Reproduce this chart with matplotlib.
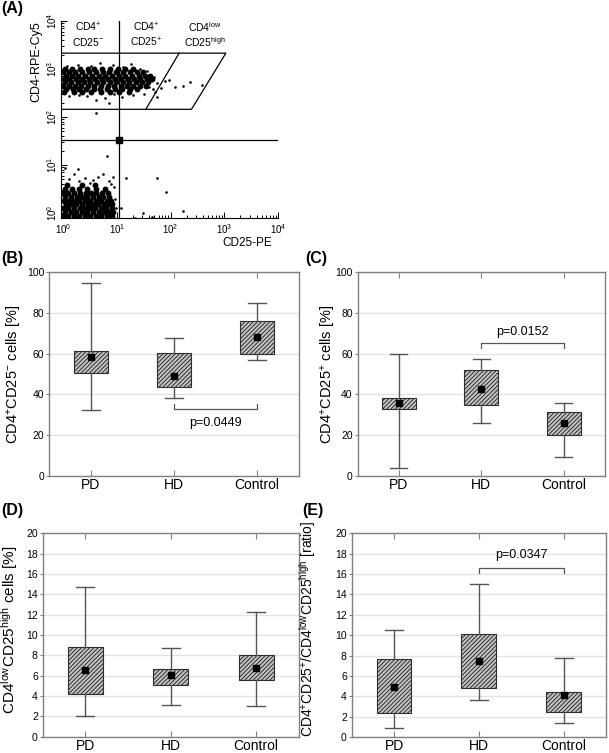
import matplotlib
matplotlib.use('Agg')
import matplotlib.pyplot as plt

plt.rcParams['font.family'] = 'Liberation Sans'
plt.rcParams['mathtext.fontset'] = 'custom'
plt.rcParams['mathtext.rm'] = 'Liberation Sans'
plt.rcParams['mathtext.it'] = 'Liberation Sans:italic'
plt.rcParams['mathtext.bf'] = 'Liberation Sans:bold'
plt.rcParams['mathtext.default'] = 'regular'
plt.rcParams['hatch.linewidth'] = 0.7

W, H = 609, 753

# ---- (A) flow cytometry dot plot, values as log10 of fluorescence ----
# dense CD4+ cloud, one row of events per CD4 level
up_rows_ly = [3.00, 2.93, 2.86, 2.79, 2.72, 2.65, 2.58, 2.52]
up_rows_lx = [
    [0.04, 0.17, 0.31, 0.46, 0.58, 0.73, 0.88, 1.02, 1.16, 1.31],
    [0.00, 0.11, 0.23, 0.36, 0.49, 0.61, 0.74, 0.86, 0.99, 1.11, 1.24, 1.37, 1.49],
    [0.05, 0.16, 0.28, 0.41, 0.53, 0.66, 0.78, 0.91, 1.04, 1.16, 1.28, 1.41, 1.53, 1.62],
    [0.01, 0.12, 0.24, 0.36, 0.48, 0.60, 0.72, 0.84, 0.96, 1.08, 1.20, 1.32, 1.44, 1.56, 1.66],
    [0.04, 0.15, 0.27, 0.39, 0.51, 0.63, 0.75, 0.87, 0.99, 1.11, 1.23, 1.35, 1.47, 1.59],
    [0.00, 0.11, 0.22, 0.34, 0.46, 0.58, 0.71, 0.83, 0.95, 1.07, 1.19, 1.31, 1.43, 1.55],
    [0.06, 0.18, 0.30, 0.43, 0.57, 0.69, 0.81, 0.97, 1.10, 1.24, 1.38],
    [0.02, 0.20, 0.35, 0.52, 0.70, 0.88, 1.05, 1.22],
]
# dense CD4- cloud
low_rows_ly = [-0.06, 0.02, 0.10, 0.18, 0.26, 0.34, 0.42, 0.50, 0.58]
low_rows_lx = [
    [0.00, 0.10, 0.21, 0.30, 0.41, 0.50, 0.61, 0.70, 0.81, 0.91],
    [0.04, 0.14, 0.25, 0.35, 0.45, 0.55, 0.66, 0.76, 0.86, 0.93],
    [0.00, 0.09, 0.20, 0.31, 0.40, 0.51, 0.60, 0.71, 0.80, 0.91],
    [0.05, 0.15, 0.24, 0.36, 0.46, 0.55, 0.65, 0.76, 0.85, 0.92],
    [0.01, 0.11, 0.21, 0.30, 0.41, 0.51, 0.61, 0.70, 0.81, 0.90],
    [0.04, 0.15, 0.26, 0.35, 0.45, 0.56, 0.66, 0.75, 0.86],
    [0.00, 0.10, 0.20, 0.31, 0.42, 0.52, 0.61, 0.72, 0.83],
    [0.03, 0.16, 0.30, 0.45, 0.62, 0.78],
    [0.08, 0.35, 0.60],
]
# scattered single events
sparse_lx = [0.08, 0.27, 0.52, 0.69, 0.93, 1.12, 1.27, 1.44, 1.57, 1.70, 1.74, 1.67, 1.71, 1.74,
             1.90, 2.08, 2.23, 2.36, 2.58, 1.83, 1.98, 1.50, 1.30, 1.10, 0.95, 0.78, 0.62, 0.61,
             0.45, 0.30, 0.12, 0.85, 1.60, 1.62,
             0.04, 0.28, 0.20, 0.74, 0.93, 0.81, 0.12, 0.40, 0.55, 0.65, 0.85, 0.95, 0.97, 0.98,
             0.50, 0.30, 0.90,
             1.18, 1.74, 1.91, 2.23, 1.49, 1.65, 1.07, 1.34]
sparse_ly = [3.07, 3.09, 3.06, 3.13, 3.08, 3.05, 3.10, 3.00, 2.95, 2.84, 2.70, 2.58, 2.53, 2.42,
             2.74, 2.63, 2.65, 2.73, 2.67, 2.60, 2.78, 2.47, 2.45, 2.42, 2.47, 2.40, 2.35, 2.09,
             2.44, 2.46, 2.43, 2.30, 2.62, 2.78,
             0.94, 0.92, 0.81, 0.81, 0.76, 1.19, 0.70, 0.72, 0.68, 0.75, 0.66, 0.55, 0.30, 0.10,
             0.62, 0.66, 0.60,
             0.73, 0.73, 0.44, 0.04, 0.01, -0.08, 0.10, -0.10]

# ---- (B)-(E) box plots: min, 25%, median, 75%, max ----
groups = ['PD', 'HD', 'Control']
b_min = [32.2, 38.4, 56.7]
b_q1 = [50.3, 43.5, 59.8]
b_med = [58.2, 49.2, 68.1]
b_q3 = [61.4, 60.1, 75.8]
b_max = [94.5, 67.8, 84.6]

c_min = [4.1, 25.8, 9.2]
c_q1 = [32.8, 35.0, 20.1]
c_med = [35.9, 42.6, 26.0]
c_q3 = [38.1, 52.0, 31.5]
c_max = [59.6, 57.4, 35.6]

d_min = [2.03, 3.14, 3.0]
d_q1 = [4.2, 5.1, 5.6]
d_med = [6.6, 6.08, 6.78]
d_q3 = [8.8, 6.7, 8.07]
d_max = [14.76, 8.7, 12.23]

e_min = [0.85, 3.63, 1.35]
e_q1 = [2.4, 4.8, 2.5]
e_med = [4.9, 7.45, 4.15]
e_q3 = [7.65, 10.1, 4.4]
e_max = [10.46, 15.0, 7.75]


fig = plt.figure(figsize=(W / 100, H / 100), dpi=100)


def px_axes(l, t, r, b):
    return fig.add_axes([l / W, 1 - b / H, (r - l) / W, (b - t) / H])


def ftext(x, y, s, **kw):
    fig.text(x / W, 1 - y / H, s, **kw)


# (A)
axA = px_axes(60.9, 21, 278, 217.8)
axA.set_xscale('log')
axA.set_yscale('log')
axA.set_xlim(10 ** -0.04, 1e4)
axA.set_ylim(10 ** -0.1, 1e4)
for side in ['top', 'right']:
    axA.spines[side].set_visible(False)
for side in ['left', 'bottom']:
    axA.spines[side].set_linewidth(0.8)

core_x, core_y = [], []
for ly, row in zip(up_rows_ly + low_rows_ly, up_rows_lx + low_rows_lx):
    for lx in row:
        core_x.append(10 ** lx)
        core_y.append(10 ** ly)
axA.scatter(core_x, core_y, s=18, marker='o', color='black', linewidths=0, zorder=2)
axA.scatter([10 ** v for v in sparse_lx], [10 ** v for v in sparse_ly], s=3.5,
            color='black', linewidths=0, zorder=2)

# gates
gate_lo, gate_hi = 10 ** 2.16, 10 ** 3.33
quad_x, quad_y = 10 ** 1.04, 10 ** 1.52
x0 = 10 ** -0.04
axA.plot([x0, 10 ** 2.39, 10 ** 3.03, x0], [gate_lo, gate_lo, gate_hi, gate_hi],
         color='black', lw=0.9, zorder=3)
axA.plot([10 ** 1.54, 10 ** 2.16], [gate_lo, gate_hi], color='black', lw=0.9, zorder=3)
axA.axvline(quad_x, color='black', lw=0.9, zorder=3)
axA.axhline(quad_y, color='black', lw=0.9, zorder=3)
axA.plot(quad_x, quad_y, 's', color='black', ms=5, zorder=4)

axA.xaxis.set_major_locator(matplotlib.ticker.LogLocator(base=10, numticks=10))
axA.yaxis.set_major_locator(matplotlib.ticker.LogLocator(base=10, numticks=10))
axA.tick_params(which='both', direction='in', width=0.7, labelsize=7)
axA.tick_params(which='major', length=4)
axA.tick_params(which='minor', length=2.5)
axA.tick_params(axis='y', labelrotation=90, pad=1.5)
for lab in axA.get_yticklabels():
    lab.set_va('center')

ftext(88, 34.5, 'CD4$^{+}$\nCD25$^{-}$', ha='center', va='center', fontsize=7.5, linespacing=1.15)
ftext(146, 34.5, 'CD4$^{+}$\nCD25$^{+}$', ha='center', va='center', fontsize=7.5, linespacing=1.15)
ftext(205, 34.5, 'CD4$^{low}$\nCD25$^{high}$', ha='center', va='center', fontsize=7.5, linespacing=1.15)
ftext(36, 62, 'CD4-RPE-Cy5', rotation=90, ha='center', va='center', fontsize=9)
ftext(272, 243, 'CD25-PE', ha='right', va='center', fontsize=8.5)


def box_panel(ax, lo, q1, med, q3, hi, ymax, step):
    stats = [dict(whislo=lo[i], q1=q1[i], med=med[i], q3=q3[i], whishi=hi[i], label=groups[i])
             for i in range(len(groups))]
    ax.bxp(stats, positions=range(len(groups)), widths=0.41, capwidths=0.21,
           patch_artist=True, showfliers=False,
           boxprops=dict(facecolor='#c4c4c4', edgecolor='#2e2e2e', hatch='////////', lw=0.8),
           whiskerprops=dict(color='#555555', lw=1),
           capprops=dict(color='#555555', lw=1),
           medianprops=dict(linestyle='none'))
    ax.plot(range(len(groups)), med, 's', color='black', ms=5, zorder=5)
    ax.set_xlim(-0.5, 2.5)
    ax.set_ylim(0, ymax)
    ax.set_yticks(range(0, ymax + 1, step))
    ax.set_axisbelow(True)
    ax.yaxis.grid(True, color='#e3e3e3', lw=1)
    for sp in ax.spines.values():
        sp.set_color('#808080')
        sp.set_linewidth(1)
    ax.tick_params(axis='y', direction='out', length=2.5, width=0.8, color='#808080',
                   labelsize=7.5, pad=1)
    ax.tick_params(axis='x', direction='in', length=4, width=0.8, color='#808080', top=True,
                   labelsize=10, pad=1.5)


def bracket(ax, y_line, y_end, y_text, label):
    ax.plot([1, 1, 2, 2], [y_end, y_line, y_line, y_end], color='#555555', lw=0.9)
    ax.text(1.5, y_text, label, ha='center', va='center', fontsize=9)


axB = px_axes(49.3, 272, 298.5, 476)
box_panel(axB, b_min, b_q1, b_med, b_q3, b_max, 100, 20)
bracket(axB, 32.8, 35.1, 26.0, 'p=0.0449')

axC = px_axes(357.5, 272, 605, 476)
box_panel(axC, c_min, c_q1, c_med, c_q3, c_max, 100, 20)
bracket(axC, 65.0, 62.6, 70.7, 'p=0.0152')

axD = px_axes(42.7, 533.3, 298.7, 736.7)
box_panel(axD, d_min, d_q1, d_med, d_q3, d_max, 20, 2)

axE = px_axes(351.7, 533.3, 606, 737)
box_panel(axE, e_min, e_q1, e_med, e_q3, e_max, 20, 2)
bracket(axE, 16.6, 16.1, 17.9, 'p=0.0347')

ftext(15, 374, 'CD4$^{+}$CD25$^{-}$ cells [%]', rotation=90, ha='center', va='center', fontsize=10.5)
ftext(328, 374, 'CD4$^{+}$CD25$^{+}$ cells [%]', rotation=90, ha='center', va='center', fontsize=10.5)
ftext(10, 630, 'CD4$^{low}$CD25$^{high}$ cells [%]', rotation=90, ha='center', va='center', fontsize=11)
ftext(307.5, 629, 'CD4$^{+}$CD25$^{+}$/CD4$^{low}$CD25$^{high}$ [ratio]', rotation=90,
      ha='center', va='center', fontsize=10)

for lab, x, y in [('(A)', 12, 9), ('(B)', 12, 259), ('(C)', 316, 259), ('(D)', 12, 510), ('(E)', 313, 510)]:
    ftext(x, y, lab, ha='center', va='center', fontsize=11.5, fontweight='bold')

fig.savefig('out.png', dpi=100)
